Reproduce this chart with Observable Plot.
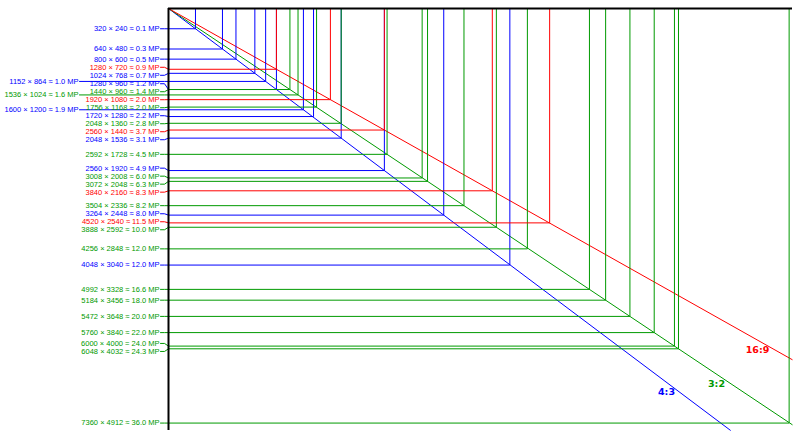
<!DOCTYPE html>
<html><head><meta charset="utf-8">
<script src="https://cdn.jsdelivr.net/npm/d3@7"></script>
<script src="https://cdn.jsdelivr.net/npm/@observablehq/plot@0.6"></script>
<style>body{margin:0;background:#fff}</style>
</head><body><div id="chart"></div>
<script>
// ---- data ----
const widths43 = [320, 640, 800, 1024, 1152, 1280, 1600, 1720, 2048, 2560, 3264, 4048];
const heights43 = [240, 480, 600, 768, 864, 960, 1200, 1280, 1536, 1920, 2448, 3040];
const mp43 = ["0.1", "0.3", "0.5", "0.7", "1.0", "1.2", "1.9", "2.2", "3.1", "4.9", "8.0", "12.0"];

const widths32 = [1440, 1536, 1756, 2048, 2592, 3008, 3072, 3504, 3888, 4256, 4992, 5184, 5472, 5760, 6000, 6048, 7360];
const heights32 = [960, 1024, 1168, 1360, 1728, 2008, 2048, 2336, 2592, 2848, 3328, 3456, 3648, 3840, 4000, 4032, 4912];
const mp32 = ["1.4", "1.6", "2.0", "2.8", "4.5", "6.0", "6.3", "8.2", "10.0", "12.0", "16.6", "18.0", "20.0", "22.0", "24.0", "24.3", "36.0"];

const widths169 = [1280, 1920, 2560, 3840, 4520];
const heights169 = [720, 1080, 1440, 2160, 2540];
const mp169 = ["0.9", "2.0", "3.7", "8.3", "11.5"];

const ratioNames = ["4:3", "3:2", "16:9"];
const ratioW = [4, 3, 16];
const ratioH = [3, 2, 9];
const ratioColors = ["#0000ff", "#009a00", "#ff0000"];

// labels drawn in the outer (second) column
const outerLabels = ["1152 × 864", "1536 × 1024", "1600 × 1200"];

// ---- layout ----
const W = 800, H = 438, mL = 168, mR = 8, mT = 8, mB = 8;
const xMax = 7400, yMax = 5000;
const kx = (W - mL - mR) / xMax, ky = (H - mT - mB) / yMax;

const series = [
  {w: widths43, h: heights43, mp: mp43, color: ratioColors[0]},
  {w: widths32, h: heights32, mp: mp32, color: ratioColors[1]},
  {w: widths169, h: heights169, mp: mp169, color: ratioColors[2]}
];
const items = [];
series.forEach(s => s.w.forEach((w, i) => {
  const h = s.h[i], mp = s.mp[i];
  const name = `${w} × ${h}`;
  const sign = (w * h === Math.round(parseFloat(mp) * 1e6)) ? "=" : "≈";
  items.push({name, w, h, color: s.color, label: `${name} ${sign} ${mp} MP`, outer: outerLabels.includes(name)});
}));

// dodge main-column labels (least-squares cluster placement)
const gap = 8 / ky;
const main = items.filter(d => !d.outer).sort((a, b) => a.h - b.h);
const clusters = [];
for (const it of main) {
  clusters.push({items: [it], top: it.h});
  while (clusters.length > 1) {
    const c = clusters[clusters.length - 1], p = clusters[clusters.length - 2];
    if (p.top + p.items.length * gap > c.top) {
      const merged = p.items.concat(c.items);
      const top = d3.mean(merged, (d, i) => d.h - i * gap);
      clusters.splice(clusters.length - 2, 2, {items: merged, top});
    } else break;
  }
}
clusters.forEach(c => c.items.forEach((d, i) => d.ly = c.top + i * gap));
items.filter(d => d.outer).forEach(d => d.ly = d.h);

const paths = [];
items.forEach(d => {
  const x0 = (d.outer ? -89 : -8) / kx;
  [[x0, d.ly], [-4 / kx, d.ly], [0, d.h], [d.w, d.h], [d.w, 0]].forEach(([x, y]) =>
    paths.push({name: d.name, color: d.color, x, y}));
});

const diagonals = ratioNames.map((n, i) => {
  const r = ratioH[i] / ratioW[i];
  const x2 = Math.min(xMax, yMax / r);
  return {name: n, color: ratioColors[i], x1: 0, y1: 0, x2, y2: x2 * r};
});
const ratioLabelX = {"4:3": 5906, "3:2": 6499, "16:9": 6985};
const ratioLabels = ratioNames.map((n, i) => ({
  name: n, color: ratioColors[i], x: ratioLabelX[n], y: ratioLabelX[n] * ratioH[i] / ratioW[i]
}));

const chart = Plot.plot({
  width: W, height: H,
  marginLeft: mL, marginRight: mR, marginTop: mT, marginBottom: mB,
  x: {domain: [0, xMax], axis: null},
  y: {domain: [0, yMax], reverse: true, axis: null},
  color: {type: "identity"},
  style: {fontFamily: "'Liberation Sans', Arial, sans-serif", background: "#fff"},
  marks: [
    Plot.link(diagonals, {x1: "x1", y1: "y1", x2: "x2", y2: "y2", stroke: "color", strokeWidth: 1}),
    Plot.line(paths, {x: "x", y: "y", z: "name", stroke: "color", strokeWidth: 1, curve: "linear"}),
    Plot.text(items.filter(d => !d.outer), {x: d => 0, y: "ly", text: "label", fill: "color", textAnchor: "end", dx: -9, fontSize: 7.5}),
    Plot.text(items.filter(d => d.outer), {x: d => 0, y: "ly", text: "label", fill: "color", textAnchor: "end", dx: -90, fontSize: 7.5}),
    Plot.text(ratioLabels, {x: "x", y: "y", text: "name", fill: "color", dy: 10, fontSize: 9.5, fontWeight: "bold", fontFamily: "'DejaVu Sans', sans-serif"}),
    Plot.ruleY([0], {stroke: "#000", strokeWidth: 2}),
    Plot.ruleX([0], {stroke: "#000", strokeWidth: 2})
  ]
});
document.getElementById("chart").appendChild(chart);
</script>
</body></html>
